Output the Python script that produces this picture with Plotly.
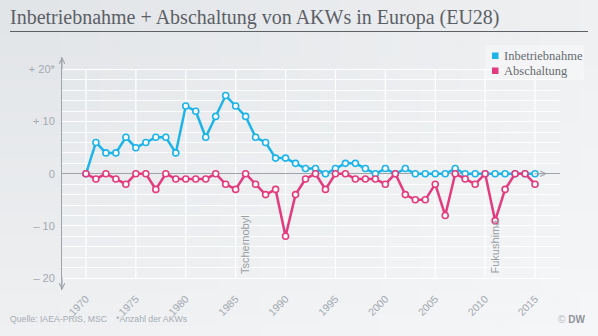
import plotly.graph_objects as go

# ---------------- data ----------------
years = list(range(1970, 2016))
inbetriebnahme = [0, 6, 4, 4, 7, 5, 6, 7, 7, 4,
                  13, 12, 7, 11, 15, 13, 11, 7, 6, 3,
                  3, 2, 1, 1, 0, 1, 2, 2, 1, 0,
                  1, 0, 1, 0, 0, 0, 0, 1, 0, 0,
                  0, 0, 0, 0, 0, 0]
abschaltung = [0, -1, 0, -1, -2, 0, 0, -3, 0, -1,
               -1, -1, -1, 0, -2, -3, 0, -2, -4, -3,
               -12, -4, -1, 0, -3, 0, 0, -1, -1, -1,
               -2, 0, -4, -5, -5, -2, -8, 0, -1, -2,
               0, -9, -3, 0, 0, -2]
x_tickvals = list(range(1970, 2016, 5))
x_ticktext = [str(v) for v in x_tickvals]
y_tickvals = [-20, -10, 0, 10, 20]
y_ticktext = ["\u2013 20", "\u2013 10", "0", "+ 10", "+ 20*"]
events = [("Tschernobyl", 1986), ("Fukushima", 2011)]
series_names = ["Inbetriebnahme", "Abschaltung"]

# ---------------- styling ----------------
W, H = 598, 336
L, R, T, B = 62, 38, 57, 46
PW, PH = W - L - R, H - T - B
XR = [1967.6, 2017.5]
YR = [-22.3, 22.4]
BLUE = "#1db4e8"
PINK = "#e23b7e"
AXIS = "#9ea4aa"
TICK = "#a3a9b0"


def px(x):
    return (x - L) / PW


def py(y):
    return (H - B - y) / PH


fig = go.Figure()
fig.add_trace(go.Scatter(
    x=years, y=inbetriebnahme, mode="lines+markers", name=series_names[0],
    line=dict(color=BLUE, width=2.5),
    marker=dict(symbol="circle", size=6, color="white", line=dict(color=BLUE, width=1.6)),
    showlegend=False, cliponaxis=False))
fig.add_trace(go.Scatter(
    x=years, y=abschaltung, mode="lines+markers", name=series_names[1],
    line=dict(color=PINK, width=2.5),
    marker=dict(symbol="circle", size=6, color="white", line=dict(color=PINK, width=1.6)),
    showlegend=False, cliponaxis=False))

shapes = []
# background gradient (top-left darker, bottom-right lighter)
N = 30
for i in range(N):
    shapes.append(dict(type="rect", xref="paper", yref="paper",
                       x0=px(W * i / N), x1=px(W * (i + 1) / N), y0=py(H), y1=py(0),
                       fillcolor="white", opacity=0.42 * i / (N - 1), line_width=0, layer="below"))
    shapes.append(dict(type="rect", xref="paper", yref="paper",
                       x0=px(0), x1=px(W), y0=py(H * (i + 1) / N), y1=py(H * i / N),
                       fillcolor="white", opacity=0.42 * i / (N - 1), line_width=0, layer="below"))
# vertical white gridlines limited to +/-20
for xv in x_tickvals:
    shapes.append(dict(type="line", xref="x", yref="y", x0=xv, x1=xv, y0=-20, y1=20,
                       line=dict(color="white", width=1.2), layer="below"))
# title underline
shapes.append(dict(type="line", xref="paper", yref="paper", x0=px(10), x1=px(588),
                   y0=py(31.5), y1=py(31.5), line=dict(color="#5c6166", width=1)))
# legend box and squares
shapes.append(dict(type="rect", xref="paper", yref="paper", x0=px(485), x1=px(584),
                   y0=py(80), y1=py(45), fillcolor="rgba(255,255,255,0.35)", line_width=0,
                   layer="below"))
shapes.append(dict(type="rect", xref="paper", yref="paper", x0=px(492), x1=px(498.5),
                   y0=py(59), y1=py(52.5), fillcolor=BLUE, line_width=0))
shapes.append(dict(type="rect", xref="paper", yref="paper", x0=px(492), x1=px(498.5),
                   y0=py(74), y1=py(67.5), fillcolor=PINK, line_width=0))

ann = []
# axis arrows
ann.append(dict(x=XR[0], y=YR[1], xref="x", yref="y", ax=0, ay=14, showarrow=True,
                arrowhead=5, arrowsize=1.1, arrowwidth=1, arrowcolor=AXIS, text=""))
ann.append(dict(x=XR[0], y=YR[0], xref="x", yref="y", ax=0, ay=-14, showarrow=True,
                arrowhead=5, arrowsize=1.1, arrowwidth=1, arrowcolor=AXIS, text=""))
ann.append(dict(x=2016.2, y=0, xref="x", yref="y", ax=-14, ay=0, showarrow=True,
                arrowhead=5, arrowsize=1.1, arrowwidth=1, arrowcolor=AXIS, text=""))
# event labels
for name, yr in events:
    ann.append(dict(x=yr, y=-19.6, xref="x", yref="y", text=name, textangle=-90,
                    showarrow=False, xanchor="center", yanchor="bottom",
                    font=dict(family="Liberation Sans", size=11, color="#9a9fa5")))
# legend texts
for i, name in enumerate(series_names):
    ann.append(dict(x=px(502), y=py(56 + 15 * i), xref="paper", yref="paper", text=name,
                    showarrow=False, xanchor="left", yanchor="middle",
                    font=dict(family="Liberation Serif", size=12.5, color="#666b70")))
# footer
ann.append(dict(x=px(8), y=py(319), xref="paper", yref="paper",
                text="Quelle: IAEA-PRIS, MSC", showarrow=False, xanchor="left", yanchor="middle",
                font=dict(family="Liberation Sans", size=8.7, color="#a6acb2")))
ann.append(dict(x=px(114), y=py(319), xref="paper", yref="paper",
                text="*Anzahl der AKWs", showarrow=False, xanchor="left", yanchor="middle",
                font=dict(family="Liberation Sans", size=8.7, color="#a6acb2")))
ann.append(dict(x=px(587), y=py(319), xref="paper", yref="paper",
                text="<span style='color:#b4b9be'>\u00a9</span> <b>DW</b>", showarrow=False,
                xanchor="right", yanchor="middle",
                font=dict(family="Liberation Sans", size=10, color="#8e949a")))

fig.update_layout(
    width=W, height=H,
    margin=dict(l=L, r=R, t=T, b=B),
    paper_bgcolor="#e2e5e8",
    plot_bgcolor="rgba(0,0,0,0)",
    title=dict(text="Inbetriebnahme + Abschaltung von AKWs in Europa (EU28)",
               x=10 / W, xanchor="left", xref="container",
               y=1 - 17 / H, yanchor="middle", yref="container",
               font=dict(family="Liberation Serif", size=20, color="#5b6066")),
    shapes=shapes,
    annotations=ann,
    showlegend=False,
    xaxis=dict(range=XR, tickmode="array", tickvals=x_tickvals, ticktext=x_ticktext,
               tickangle=-45, showgrid=False, zeroline=False, showline=False, ticks="",
               tickfont=dict(family="Liberation Sans", size=10.5, color=TICK),
               fixedrange=True),
    yaxis=dict(range=YR, tickmode="array", tickvals=y_tickvals, ticktext=y_ticktext,
               showgrid=True, gridcolor="white", gridwidth=1,
               minor=dict(tickmode="array", tickvals=list(range(-20, 21, 2)),
                          showgrid=True, gridcolor="rgba(255,255,255,0.85)", gridwidth=1),
               zeroline=True, zerolinecolor=AXIS, zerolinewidth=1,
               showline=True, linecolor=AXIS, linewidth=1, ticks="",
               ticklabelstandoff=4,
               tickfont=dict(family="Liberation Sans", size=11, color=TICK),
               fixedrange=True),
)
fig.write_html("out.html")
